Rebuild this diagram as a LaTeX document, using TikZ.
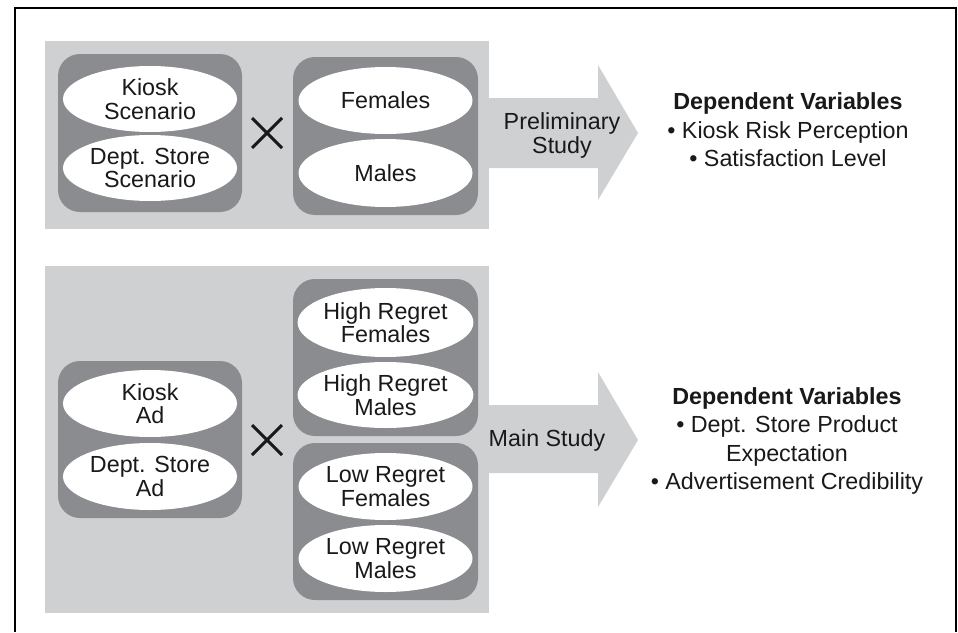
\documentclass[tikz,border=0pt]{standalone}
\usepackage{fontspec}
\setmainfont{Liberation Sans}
\usetikzlibrary{shapes.geometric}
\definecolor{panelgray}{HTML}{CFD0D2}
\definecolor{groupgray}{HTML}{8B8C8F}
\begin{document}
\begin{tikzpicture}[x=1pt,y=-1pt,
    panel/.style={fill=panelgray},
    group/.style={fill=groupgray,rounded corners=22pt},
    level/.style={ellipse,fill=white,minimum width=174pt,minimum height=66pt,
      inner sep=0pt,align=center,text=black!90,font=\fontsize{23.3}{23.5}\selectfont},
    cross/.style={line width=3pt,black!90},
    study/.style={align=center,font=\fontsize{23.3}{24}\selectfont,text=black!90},
    depvars/.style={align=center,font=\fontsize{23.3}{28.5}\selectfont,text=black!90}]
  \useasboundingbox (0,0) rectangle (958,632);
  \draw[line width=1.5pt] (15,632) -- (15,8) -- (956,8) -- (956,632);
  % preliminary study
  \fill[panel] (45,41) rectangle (489,229);
  \fill[panel] (480,98) -- (598,98) -- (598,65) -- (638,133)
    -- (598,200) -- (598,168) -- (480,168) -- cycle;
  \fill[group] (58,54) rectangle (242,212);
  \fill[group] (293,57) rectangle (478,215);
  \draw
    (150,99) node[level] (kiosk1){Kiosk\\Scenario}
    (150,168) node[level] (dept1){Dept. Store\\Scenario}
    (385.5,100.5) node[level,minimum height=67pt] (fem){Females}
    (385.5,173) node[level,minimum height=68pt] (male){Males}
    (562,135) node[study] (pre){Preliminary\\Study}
    (788,130) node[depvars] (dv1){\textbf{Dependent Variables}\\
      • Kiosk Risk Perception\\• Satisfaction Level};
  \draw[cross] (252,118) -- (282,148) (252,148) -- (282,118);
  % main study
  \fill[panel] (45,266) rectangle (489,613);
  \fill[panel] (480,405) -- (598,405) -- (598,372) -- (638,440)
    -- (598,507) -- (598,473) -- (480,473) -- cycle;
  \fill[group] (58,361) rectangle (242,518);
  \fill[group] (293,279) rectangle (478,436);
  \fill[group] (293,443) rectangle (478,600);
  \draw
    (150,403.5) node[level,minimum height=67pt] (kiosk2){Kiosk\\Ad}
    (150,476.5) node[level,minimum height=67pt] (dept2){Dept. Store\\Ad}
    (385.5,322.5) node[level,minimum height=69pt] (hrf){High Regret\\Females}
    (385.5,395) node[level] (hrm){High Regret\\Males}
    (385.5,486.5) node[level,minimum height=67pt] (lrf){Low Regret\\Females}
    (385.5,558.5) node[level,minimum height=67pt] (lrm){Low Regret\\Males}
    (547,440) node[study] (main){Main Study}
    (787,441) node[depvars] (dv2){\textbf{Dependent Variables}\\
      • Dept. Store Product\\Expectation\\• Advertisement Credibility};
  \draw[cross] (252,425) -- (282,455) (252,455) -- (282,425);
\end{tikzpicture}
\end{document}
